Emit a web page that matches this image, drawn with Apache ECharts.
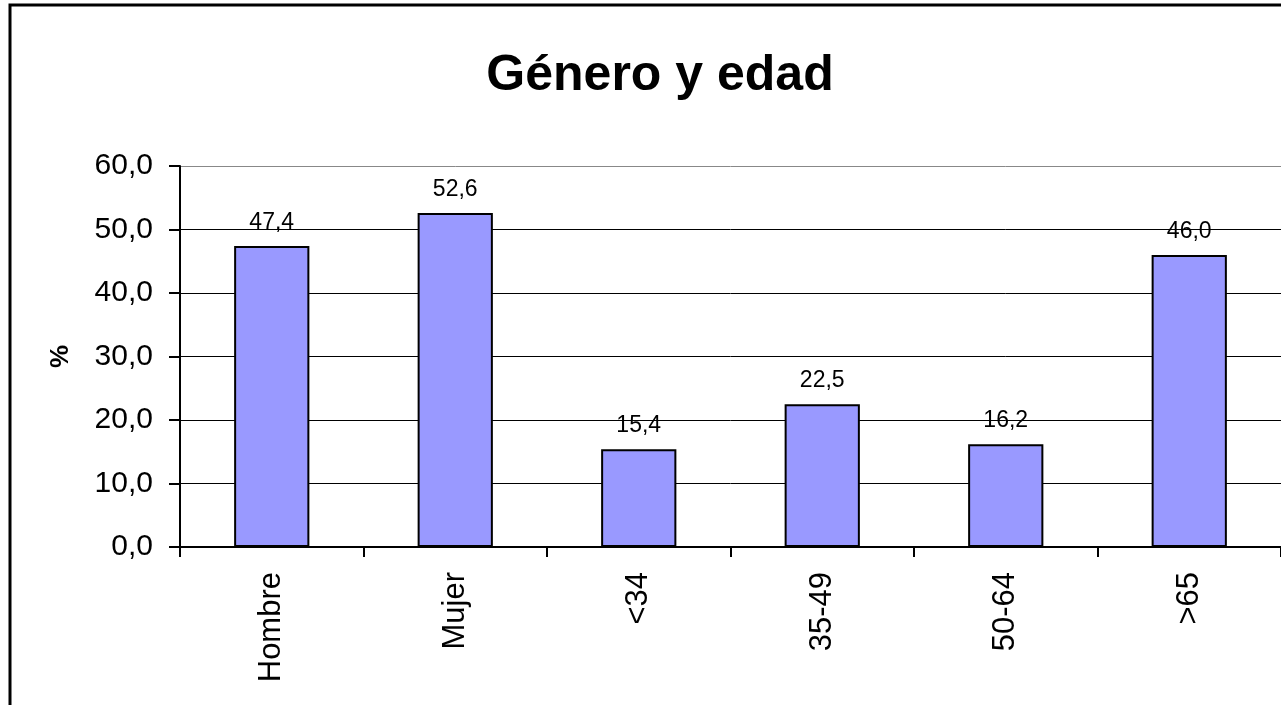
<!DOCTYPE html>
<html>
<head>
<meta charset="utf-8">
<script src="https://cdn.jsdelivr.net/npm/echarts@6/dist/echarts.min.js"></script>
<style>
  html, body { margin: 0; padding: 0; background: #fff; }
  #main { width: 1281px; height: 705px; }
</style>
</head>
<body>
<div id="main"></div>
<script>
var categories = ["Hombre", "Mujer", "<34", "35-49", "50-64", ">65"];
var values = [47.4, 52.6, 15.4, 22.5, 16.2, 46.0];
var yTicks = [0, 10, 20, 30, 40, 50, 60];

function fmt(v) {
  return Number(v).toFixed(1).replace(".", ",");
}

var chartDom = document.getElementById("main");
var myChart = echarts.init(chartDom);
var option;

option = {
  backgroundColor: "#fff",
  animation: false,
  textStyle: { fontFamily: "Liberation Sans, Arial, sans-serif" },
  graphic: [
    {
      type: "rect",
      shape: { x: 10, y: 5, width: 1320, height: 800 },
      style: { fill: "none", stroke: "#000", lineWidth: 3 },
    },
  ],
  title: {
    text: "Género y edad",
    left: 655,
    top: 46,
    textAlign: "center",
    textStyle: {
      fontSize: 50,
      fontWeight: "bold",
      color: "#000",
      fontFamily: "Liberation Sans, Arial, sans-serif",
    },
  },
  grid: { left: 180, top: 166, right: 0, bottom: 158, containLabel: false },
  xAxis: {
    type: "category",
    data: categories,
    axisLine: { lineStyle: { color: "#000", width: 2 } },
    axisTick: { show: true, length: 10, lineStyle: { color: "#000", width: 2 } },
    axisLabel: {
      rotate: 90,
      fontSize: 31,
      color: "#000",
      margin: 25,
      interval: 0,
    },
  },
  yAxis: {
    type: "value",
    min: yTicks[0],
    max: yTicks[yTicks.length - 1],
    interval: 10,
    name: "%",
    nameLocation: "middle",
    nameGap: 106,
    nameRotate: 90,
    nameTextStyle: { fontSize: 26, fontWeight: "bold", color: "#000" },
    axisLine: { show: true, lineStyle: { color: "#000", width: 2 } },
    axisTick: { show: true, length: 11, lineStyle: { color: "#000", width: 2 } },
    axisLabel: {
      fontSize: 30,
      color: "#000",
      margin: 27,
      formatter: fmt,
    },
    splitLine: {
      show: true,
      lineStyle: {
        color: ["#000", "#000", "#000", "#000", "#000", "#000", "#888"],
        width: 1,
      },
    },
  },
  series: [
    {
      type: "bar",
      data: values,
      barCategoryGap: "59%",
      itemStyle: { color: "#9999ff", borderColor: "#000", borderWidth: 2 },
      label: {
        show: true,
        position: "top",
        distance: 12,
        fontSize: 23,
        color: "#000",
        formatter: function (p) {
          return fmt(p.value);
        },
      },
    },
  ],
};

option && myChart.setOption(option);
</script>
</body>
</html>
